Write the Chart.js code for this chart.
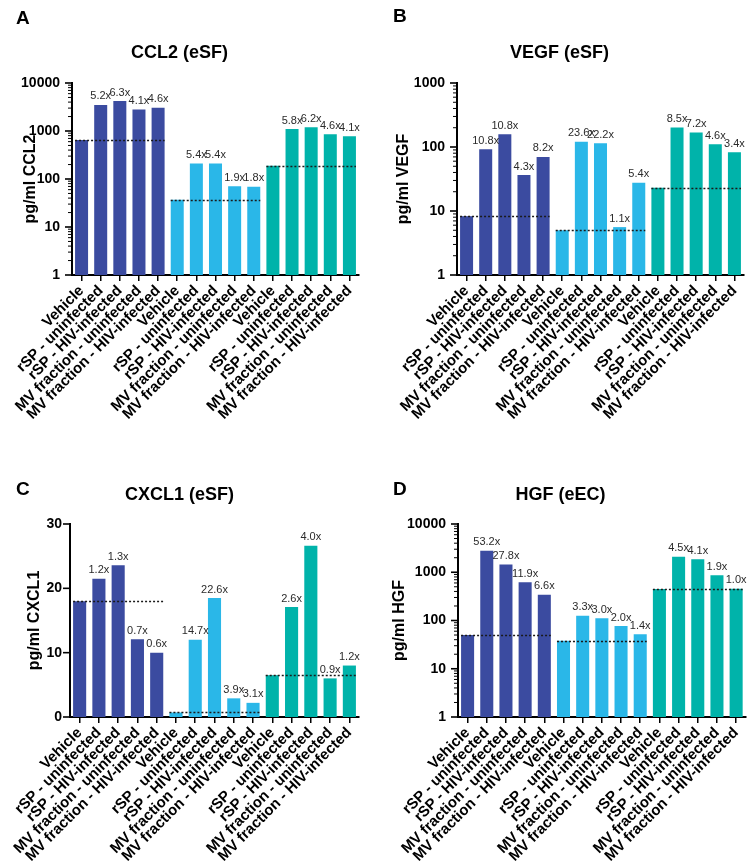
<!DOCTYPE html>
<html>
<head>
<meta charset="utf-8">
<script src="https://cdn.jsdelivr.net/npm/chart.js@4.4.1/dist/chart.umd.min.js"></script>
<style>
  html, body { margin: 0; padding: 0; background: #fff; }
  body { width: 750px; height: 861px; position: relative; overflow: hidden; font-family: Arial, "Liberation Sans", sans-serif; }
  .panel { position: absolute; width: 375px; }
  .panel canvas { display: block; }
  .letter { position: absolute; font-weight: bold; font-size: 19px; line-height: 1; color: #000; }
</style>
</head>
<body>
<div class="panel" style="left:0;top:0;height:430px"><canvas id="chartA"></canvas></div>
<div class="panel" style="left:375px;top:0;height:430px"><canvas id="chartB"></canvas></div>
<div class="panel" style="left:0;top:430px;height:431px"><canvas id="chartC"></canvas></div>
<div class="panel" style="left:375px;top:430px;height:431px"><canvas id="chartD"></canvas></div>
<div class="letter" style="left:16px;top:8px">A</div>
<div class="letter" style="left:393px;top:6px">B</div>
<div class="letter" style="left:16px;top:479px">C</div>
<div class="letter" style="left:393px;top:479px">D</div>
<script>
// categories: 3 groups of the same 5 treatments
const conditions = ['Vehicle', 'rSP - uninfected', 'rSP - HIV-infected', 'MV fraction - uninfected', 'MV fraction - HIV-infected'];
const categories = [...conditions, ...conditions, ...conditions];

// values (pg/ml)
const ccl2Values  = [650, 3500, 4200, 2800, 3050,   37, 210, 210, 71, 69,    188, 1100, 1190, 860, 780];
const vegfValues  = [8.3, 92, 158, 36.5, 70,        5.0, 121, 114, 5.6, 27.6, 23, 202, 169, 110, 83];
const cxcl1Values = [18.0, 21.5, 23.6, 12.1, 10.0,  0.7, 12.0, 18.5, 2.9, 2.2, 6.5, 17.1, 26.6, 6.0, 8.0];
const hgfValues   = [50, 2790, 1450, 620, 343,      38, 125, 112, 77, 52,     451, 2090, 1870, 870, 455];

// fold change labels over vehicle
const ccl2Fold  = [null, '5.2x', '6.3x', '4.1x', '4.6x',   null, '5.4x', '5.4x', '1.9x', '1.8x',   null, '5.8x', '6.2x', '4.6x', '4.1x'];
const vegfFold  = [null, '10.8x', '10.8x', '4.3x', '8.2x', null, '23.6x', '22.2x', '1.1x', '5.4x', null, '8.5x', '7.2x', '4.6x', '3.4x'];
const cxcl1Fold = [null, '1.2x', '1.3x', '0.7x', '0.6x',   null, '14.7x', '22.6x', '3.9x', '3.1x', null, '2.6x', '4.0x', '0.9x', '1.2x'];
const hgfFold   = [null, '53.2x', '27.8x', '11.9x', '6.6x', null, '3.3x', '3.0x', '2.0x', '1.4x',  null, '4.5x', '4.1x', '1.9x', '1.0x'];

// tick labels
const logTicks4 = [1, 10, 100, 1000, 10000];
const logTicks3 = [1, 10, 100, 1000];
const linTicks = [0, 10, 20, 30];

const groupColors = ['#3B4BA0', '#2AB7E8', '#00B3AA'];
const barColors = categories.map((c, i) => groupColors[Math.floor(i / 5)]);
const FONT = 'Arial, "Liberation Sans", sans-serif';

// draws y tick marks, vehicle dotted lines and fold labels
const panelDecor = {
  id: 'panelDecor',
  afterDatasetsDraw(chart, args, opts) {
    const ctx = chart.ctx;
    const y = chart.scales.y;
    const bars = chart.getDatasetMeta(0).data;
    const values = chart.data.datasets[0].data;
    ctx.save();
    ctx.setLineDash([2, 2]);
    ctx.lineWidth = 1.5;
    ctx.strokeStyle = '#1a1a1a';
    for (let g = 0; g < 3; g++) {
      const first = bars[g * 5], last = bars[g * 5 + 4];
      const py = Math.round(y.getPixelForValue(values[g * 5])) + 0.5;
      ctx.beginPath();
      ctx.moveTo(first.x - first.width / 2, py);
      ctx.lineTo(last.x + last.width / 2, py);
      ctx.stroke();
    }
    ctx.setLineDash([]);
    ctx.font = '11px ' + FONT;
    ctx.fillStyle = '#2b2b2b';
    ctx.textAlign = 'center';
    ctx.textBaseline = 'bottom';
    opts.fold.forEach((txt, i) => {
      if (!txt) return;
      ctx.fillText(txt, bars[i].x, bars[i].y - 3);
    });
    ctx.restore();
  },
  afterDraw(chart, args, opts) {
    const ctx = chart.ctx;
    const y = chart.scales.y;
    const left = chart.chartArea.left;
    ctx.save();
    ctx.strokeStyle = '#000';
    const mark = (v, len, w) => {
      const py = y.getPixelForValue(v);
      ctx.lineWidth = w;
      ctx.beginPath();
      ctx.moveTo(left - len, py);
      ctx.lineTo(left, py);
      ctx.stroke();
    };
    opts.major.forEach(v => mark(v, 7, 1.6));
    if (opts.log) {
      opts.major.slice(0, -1).forEach(d => {
        for (let m = 2; m <= 9; m++) mark(d * m, 4, 1);
      });
    }
    ctx.restore();
  }
};

function makeChart(id, p) {
  const W = 375, H = p.H;
  const yScale = p.log ? {
    type: 'logarithmic', min: p.ticks[0], max: p.ticks[p.ticks.length - 1]
  } : {
    type: 'linear', min: p.ticks[0], max: p.ticks[p.ticks.length - 1]
  };
  Object.assign(yScale, {
    afterBuildTicks: s => { s.ticks = p.ticks.map(v => ({ value: v, major: true })); },
    afterFit: s => { s.width = p.left; },
    grid: { display: false, drawTicks: false },
    border: { display: true, color: '#000', width: 2 },
    ticks: {
      autoSkip: false, padding: p.tickPad, color: '#000',
      font: { family: FONT, size: 14, weight: 'bold' },
      callback: v => String(v)
    },
    title: {
      display: true, text: p.yTitle, color: '#000',
      font: { family: FONT, size: 16, weight: 'bold' },
      padding: { top: p.yTitleX - 9.6, bottom: 0 }
    }
  });
  return new Chart(document.getElementById(id), {
    type: 'bar',
    data: {
      labels: categories,
      datasets: [{
        data: p.values,
        backgroundColor: barColors,
        borderWidth: 0,
        categoryPercentage: 1,
        barPercentage: 0.68
      }]
    },
    options: {
      responsive: true,
      maintainAspectRatio: false,
      animation: false,
      layout: { padding: { left: 0, top: 0, right: W - p.right, bottom: 0 } },
      plugins: {
        legend: { display: false },
        tooltip: { enabled: false },
        title: {
          display: true, text: p.title, color: '#000',
          font: { family: FONT, size: 18, weight: 'bold' },
          padding: { top: p.titleY - 10.8, bottom: p.top - p.titleY - 10.8 }
        },
        panelDecor: { fold: p.fold, major: p.ticks, log: p.log }
      },
      scales: {
        x: {
          afterFit: s => { s.height = H - p.bottom; },
          grid: { display: true, drawOnChartArea: false, drawTicks: true, tickLength: 6, offset: false, color: '#000', lineWidth: 1.5 },
          border: { display: true, color: '#000', width: 2 },
          ticks: {
            autoSkip: false, minRotation: 45, maxRotation: 45, padding: 1, color: '#000',
            font: { family: FONT, size: 15, weight: 'bold' }
          }
        },
        y: yScale
      }
    },
    plugins: [panelDecor]
  });
}

makeChart('chartA', { H: 430, left: 72, right: 359, top: 83, bottom: 275, titleY: 53, yTitleX: 31, tickPad: 12,
  title: 'CCL2 (eSF)', yTitle: 'pg/ml CCL2', values: ccl2Values, fold: ccl2Fold, ticks: logTicks4, log: true });
makeChart('chartB', { H: 430, left: 82, right: 369, top: 83, bottom: 275, titleY: 53, yTitleX: 29, tickPad: 12,
  title: 'VEGF (eSF)', yTitle: 'pg/ml VEGF', values: vegfValues, fold: vegfFold, ticks: logTicks3, log: true });
makeChart('chartC', { H: 431, left: 70, right: 359, top: 94, bottom: 287, titleY: 65, yTitleX: 35, tickPad: 8,
  title: 'CXCL1 (eSF)', yTitle: 'pg/ml CXCL1', values: cxcl1Values, fold: cxcl1Fold, ticks: linTicks, log: false });
makeChart('chartD', { H: 431, left: 83, right: 371, top: 94, bottom: 287, titleY: 65, yTitleX: 25, tickPad: 12,
  title: 'HGF (eEC)', yTitle: 'pg/ml HGF', values: hgfValues, fold: hgfFold, ticks: logTicks4, log: true });
</script>
</body>
</html>
